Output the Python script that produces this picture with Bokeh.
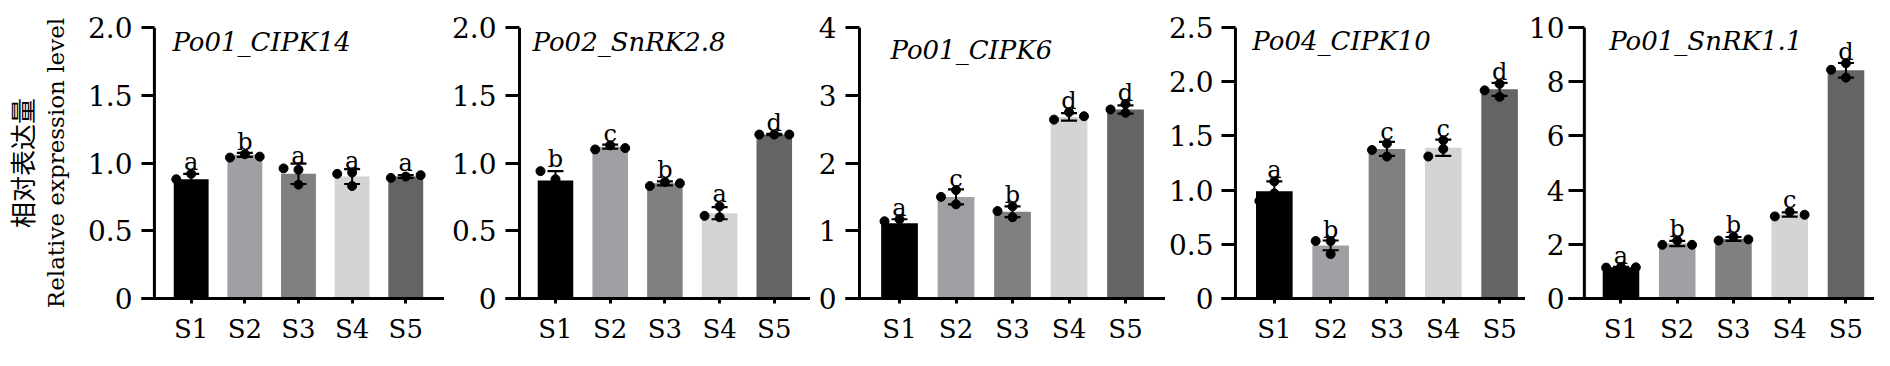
import numpy as np
from bokeh.plotting import figure
from bokeh.layouts import row
from bokeh.models import FixedTicker, Span, Title
from bokeh.embed import file_html
from bokeh.resources import INLINE
from bokeh.core.properties import value

# ---------------- data ----------------
categories = ["S1", "S2", "S3", "S4", "S5"]
bar_colors = ["#000000", "#a0a0a4", "#808080", "#d4d4d4", "#646464"]

gene_names = ["Po01_CIPK14", "Po02_SnRK2.8", "Po01_CIPK6", "Po04_CIPK10", "Po01_SnRK1.1"]
y_title_cn = "相对表达量"
y_title_en = "Relative expression level"

y_max = [2.0, 2.0, 4.0, 2.5, 10.0]
y_ticks = [
    [0, 0.5, 1.0, 1.5, 2.0],
    [0, 0.5, 1.0, 1.5, 2.0],
    [0, 1, 2, 3, 4],
    [0, 0.5, 1.0, 1.5, 2.0, 2.5],
    [0, 2, 4, 6, 8, 10],
]
y_tick_labels = [
    ["0", "0.5", "1.0", "1.5", "2.0"],
    ["0", "0.5", "1.0", "1.5", "2.0"],
    ["0", "1", "2", "3", "4"],
    ["0", "0.5", "1.0", "1.5", "2.0", "2.5"],
    ["0", "2", "4", "6", "8", "10"],
]

# Po01_CIPK14
means_cipk14 = [0.88, 1.06, 0.92, 0.90, 0.90]
sd_cipk14 = [0.04, 0.015, 0.075, 0.055, 0.01]
points_cipk14 = [[0.84, 0.92, 0.88], [1.065, 1.04, 1.047], [0.84, 0.95, 0.96], [0.83, 0.93, 0.92], [0.90, 0.89, 0.91]]
letters_cipk14 = ["a", "b", "a", "a", "a"]

# Po02_SnRK2.8
means_snrk28 = [0.87, 1.12, 0.85, 0.63, 1.21]
sd_snrk28 = [0.07, 0.015, 0.015, 0.045, 0.005]
points_snrk28 = [[0.88, 0.94, 0.79], [1.13, 1.10, 1.11], [0.86, 0.83, 0.85], [0.68, 0.60, 0.61], [1.21, 1.21, 1.21]]
letters_snrk28 = ["b", "c", "b", "a", "d"]

# Po01_CIPK6
means_cipk6 = [1.11, 1.50, 1.28, 2.68, 2.79]
sd_cipk6 = [0.06, 0.11, 0.08, 0.055, 0.06]
points_cipk6 = [[1.02, 1.17, 1.14], [1.60, 1.50, 1.39], [1.36, 1.20, 1.29], [2.75, 2.64, 2.69], [2.87, 2.74, 2.79]]
letters_cipk6 = ["a", "c", "b", "d", "d"]

# Po04_CIPK10
means_cipk10 = [0.99, 0.49, 1.38, 1.39, 1.93]
sd_cipk10 = [0.09, 0.045, 0.065, 0.075, 0.06]
points_cipk10 = [[1.08, 0.97, 0.90], [0.41, 0.53, 0.53], [1.43, 1.37, 1.31], [1.46, 1.38, 1.31], [1.98, 1.92, 1.86]]
letters_cipk10 = ["a", "b", "c", "c", "d"]

# Po01_SnRK1.1
means_snrk11 = [1.15, 2.03, 2.20, 3.10, 8.42]
sd_snrk11 = [0.02, 0.10, 0.07, 0.08, 0.27]
points_snrk11 = [[1.16, 1.14, 1.15], [2.14, 1.98, 1.98], [2.28, 2.14, 2.18], [3.20, 3.03, 3.09], [8.68, 8.44, 8.15]]
letters_snrk11 = ["a", "b", "b", "c", "d"]

panels_means = [means_cipk14, means_snrk28, means_cipk6, means_cipk10, means_snrk11]
panels_sd = [sd_cipk14, sd_snrk28, sd_cipk6, sd_cipk10, sd_snrk11]
panels_points = [points_cipk14, points_snrk28, points_cipk6, points_cipk10, points_snrk11]
panels_letters = [letters_cipk14, letters_snrk28, letters_cipk6, letters_cipk10, letters_snrk11]

# ---------------- layout (pixels) ----------------
FIG_H = 350
LABEL_W = 84                     # narrow figure that holds the y-axis title
fig_w = [360, 366, 355, 360, 349]
border_left = [55, 61, 35, 55, 40]
border_top = [27, 27, 15, 15, 15]
frame_h = [274, 274, 285, 283, 285]
x_start = [0.074, 0.086, 0.044, 0.062, 0.067]
spacing_px = [54.0, 54.7, 56.5, 56.5, 56.8]
yaxis_px = [13, 14, 14, 14, 16]        # y-axis line offset from frame left
ylabel_standoff = [9, 9, 9, 8, 4]
title_x = [0.65, 0.58, 0.84, 0.61, 0.79]
title_drop_px = [15, 15, 24, 14, 14]

SERIF = "DejaVu Serif"

# ---- y-axis title holder: an empty plot whose left axis carries the titles ----
lab = figure(width=LABEL_W, height=FIG_H, x_range=(0, 1), y_range=(0, 1),
             output_backend="svg", toolbar_location=None,
             min_border_left=0, min_border_right=0,
             min_border_top=border_top[0], min_border_bottom=FIG_H - border_top[0] - frame_h[0])
lab.xaxis.visible = False
lab.grid.visible = False
lab.outline_line_color = None
lya = lab.yaxis[0]
lya.ticker = FixedTicker(ticks=[])
lya.axis_line_color = None
lya.major_tick_line_color = None
lya.minor_tick_line_color = None
lya.major_tick_out = 0
lya.major_tick_in = 0
lya.major_label_standoff = 0
lya.axis_label = y_title_en
lya.axis_label_text_font = SERIF
lya.axis_label_text_font_style = "normal"
lya.axis_label_text_font_size = "23px"
lya.axis_label_text_color = "black"
lya.axis_label_standoff = 2
lab.add_layout(Title(text=y_title_cn, text_font="Noto Sans CJK SC",
                     text_font_style="normal", text_font_size="26px",
                     text_color="black", align="center", standoff=0), "left")


def swarm(vals, ppu, diam=9.0, step=15.0):
    placed, offs = [], []
    for v in vals:
        y = v * ppu
        chosen = 0.0
        for cand in [0.0, -step, step, -2 * step, 2 * step]:
            if all((cand - px) ** 2 + (y - py) ** 2 >= diam ** 2 for px, py in placed):
                chosen = cand
                break
        placed.append((chosen, y))
        offs.append(chosen)
    return offs


figs = [lab]
for i in range(5):
    fw = fig_w[i] - border_left[i]
    x_end = x_start[i] + fw / spacing_px[i]
    ymax = y_max[i]
    ppu = frame_h[i] / ymax
    xpu = spacing_px[i]

    p = figure(width=fig_w[i], height=FIG_H,
               x_range=(x_start[i], x_end), y_range=(0, ymax),
               output_backend="svg", toolbar_location=None,
               min_border_left=border_left[i], min_border_right=0,
               min_border_top=border_top[i],
               min_border_bottom=FIG_H - border_top[i] - frame_h[i])
    p.outline_line_color = None
    p.xgrid.visible = False
    p.ygrid.visible = False

    xs = np.arange(1, 6)
    means = np.array(panels_means[i], dtype=float)
    sds = np.array(panels_sd[i], dtype=float)

    p.vbar(x=xs, top=means, width=0.65, fill_color=bar_colors, line_color=None)

    p.segment(x0=xs, y0=means - sds, x1=xs, y1=means + sds, line_color="black", line_width=2)
    p.scatter(x=xs, y=means + sds, marker="dash", size=16, line_color="black", line_width=2.2)
    p.scatter(x=xs, y=means - sds, marker="dash", size=16, line_color="black", line_width=2.2)

    px_, py_ = [], []
    for k, pts in enumerate(panels_points[i]):
        offs = swarm(pts, ppu)
        for v, o in zip(pts, offs):
            px_.append(xs[k] + o / xpu)
            py_.append(v)
    p.scatter(x=px_, y=py_, size=9, fill_color="black", line_color="black")

    ly = []
    for k, pts in enumerate(panels_points[i]):
        top_px = max((means[k] + sds[k]) * ppu, max(pts) * ppu + 4)
        ly.append((top_px + 8) / ppu)
    p.text(x=xs, y=ly, text=panels_letters[i], text_font=value(SERIF),
           text_font_size="24px", text_align="center", text_baseline="alphabetic",
           text_color="black")

    p.text(x=[title_x[i]], y=[ymax - title_drop_px[i] / ppu], text=[gene_names[i]],
           text_font=value(SERIF), text_font_style="italic", text_font_size="26px",
           text_align="left", text_baseline="alphabetic", text_color="black")

    xa = p.xaxis[0]
    xa.ticker = FixedTicker(ticks=list(range(1, 6)))
    xa.major_label_overrides = {k + 1: c for k, c in enumerate(categories)}
    xa.axis_line_width = 3
    xa.axis_line_color = "black"
    xa.major_tick_out = 5
    xa.major_tick_in = 0
    xa.major_tick_line_width = 3
    xa.minor_tick_line_color = None
    xa.major_label_standoff = 10
    xa.major_label_text_font = SERIF
    xa.major_label_text_font_size = "26px"
    xa.major_label_text_color = "black"

    ya = p.yaxis[0]
    ya.ticker = FixedTicker(ticks=y_ticks[i])
    ya.major_label_overrides = {float(t): lab_ for t, lab_ in zip(y_ticks[i], y_tick_labels[i])}
    ya.axis_line_color = None
    ya.major_tick_in = yaxis_px[i]
    ya.major_tick_out = 0
    ya.major_tick_line_width = 3
    ya.minor_tick_line_color = None
    ya.major_label_standoff = ylabel_standoff[i]
    ya.major_label_text_font = SERIF
    ya.major_label_text_font_size = "28px"
    ya.major_label_text_color = "black"
    p.add_layout(Span(location=x_start[i] + yaxis_px[i] / xpu, dimension="height",
                      line_color="black", line_width=3))

    figs.append(p)

layout = row(*figs, spacing=0)
open("out.html", "w").write(file_html(layout, INLINE))
